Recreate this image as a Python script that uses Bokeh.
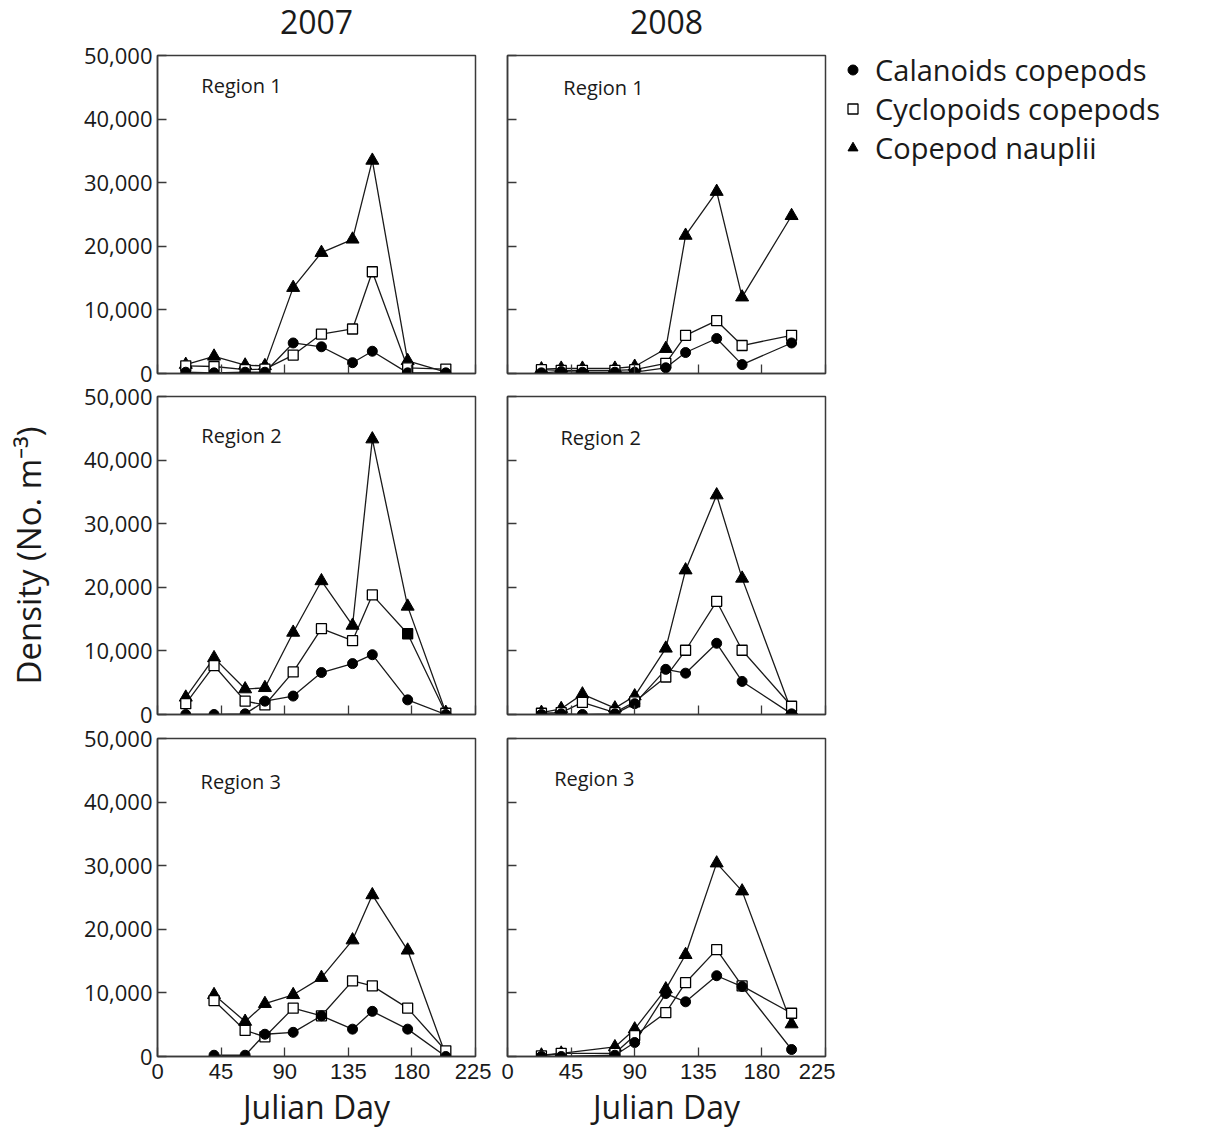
from bokeh.plotting import figure
from bokeh.layouts import row, column
from bokeh.models import (Range1d, FixedTicker, NumeralTickFormatter, Label,
                          Legend, LegendItem, ColumnDataSource)
from bokeh.core.properties import value
from bokeh.embed import file_html
from bokeh.resources import INLINE

# ---- sampling days (Julian day) ----
days_2007 = [20, 40, 62, 76, 96, 116, 138, 152, 177, 204]
days_2007_r3 = [40, 62, 76, 96, 116, 138, 152, 177, 204]
days_2008 = [24, 38, 53, 76, 90, 112, 126, 148, 166, 201]
days_2008_r3 = [24, 38, 76, 90, 112, 126, 148, 166, 201]

# ---- densities (No. m^-3) ----
# Region 1
r1_2007_calanoid = [200, 100, 200, 200, 4800, 4200, 1700, 3500, 100, 100]
r1_2007_cyclopoid = [1200, 1100, 600, 700, 2900, 6200, 7000, 16000, 900, 700]
r1_2007_nauplii = [1400, 2700, 1300, 1200, 13500, 19000, 21100, 33500, 2000, 200]
r1_2008_calanoid = [100, 300, 200, 200, 200, 900, 3300, 5500, 1400, 4800]
r1_2008_cyclopoid = [600, 500, 500, 500, 600, 1600, 6000, 8300, 4400, 6000]
r1_2008_nauplii = [700, 800, 800, 800, 1100, 3900, 21700, 28600, 12000, 24800]
# Region 2
r2_2007_calanoid = [0, 0, 100, 2100, 2900, 6600, 8000, 9400, 2300, 0]
r2_2007_cyclopoid = [1700, 7700, 2100, 1500, 6700, 13500, 11600, 18800, 12700, 200]
r2_2007_nauplii = [2700, 8900, 4000, 4200, 12900, 21000, 14000, 43300, 17000, 300]
r2_2008_calanoid = [0, 100, 0, 100, 1700, 7100, 6500, 11200, 5200, 100]
r2_2008_cyclopoid = [200, 300, 1900, 300, 2000, 5900, 10100, 17800, 10100, 1300]
r2_2008_nauplii = [300, 900, 3200, 1000, 2900, 10400, 22700, 34500, 21400, 500]
# Region 3
r3_2007_calanoid = [200, 200, 3500, 3800, 6400, 4300, 7100, 4300, 0]
r3_2007_cyclopoid = [8800, 4100, 3100, 7600, 6400, 11900, 11100, 7600, 900]
r3_2007_nauplii = [9700, 5500, 8300, 9700, 12400, 18300, 25400, 16700, 200]
r3_2008_calanoid = [0, 0, 200, 2200, 9900, 8600, 12700, 11000, 1100]
r3_2008_cyclopoid = [100, 500, 500, 3300, 6900, 11600, 16800, 11100, 6800]
r3_2008_nauplii = [200, 500, 1500, 4300, 10600, 16000, 30400, 26000, 5100]

years = ["2007", "2008"]
regions = ["Region 1", "Region 2", "Region 3"]
series_names = ["Calanoids copepods", "Cyclopoids copepods", "Copepod nauplii"]
x_ticks = [0, 45, 90, 135, 180, 225]
y_ticks = [0, 10000, 20000, 30000, 40000, 50000]

panels = {
    (0, 0): (days_2007, r1_2007_calanoid, r1_2007_cyclopoid, r1_2007_nauplii),
    (1, 0): (days_2008, r1_2008_calanoid, r1_2008_cyclopoid, r1_2008_nauplii),
    (0, 1): (days_2007, r2_2007_calanoid, r2_2007_cyclopoid, r2_2007_nauplii),
    (1, 1): (days_2008, r2_2008_calanoid, r2_2008_cyclopoid, r2_2008_nauplii),
    (0, 2): (days_2007_r3, r3_2007_calanoid, r3_2007_cyclopoid, r3_2007_nauplii),
    (1, 2): (days_2008_r3, r3_2008_calanoid, r3_2008_cyclopoid, r3_2008_nauplii),
}

# cyclopoid markers printed solid in the figure (panel -> sampling day)
solid_cyclopoid = {(0, 1): [177]}

# where each region caption sits (data coordinates)
caption_pos = {
    (0, 0): (31, 45300), (1, 0): (39.5, 45000),
    (0, 1): (31, 43800), (1, 1): (37.5, 43600),
    (0, 2): (30.5, 43300), (1, 2): (33, 43700),
}

INK = "#1a1a1a"
FRAME = "#3a3a3a"

# page geometry (pixels)
PAGE_W = 1221
FRAME_W = 318
LEFT_PAD = 157          # space left of the first column's frame
COL_GAP = 32            # space between the two frames
HEAD_H = 41             # strip holding the year headings
TOP_PAD = 14            # remaining space above the first row's frames


def make_panel(yi, ri):
    left = yi == 0
    top = ri == 0
    bottom = ri == 2
    with_legend = (yi == 1 and ri == 0)
    p = figure(
        frame_width=FRAME_W, frame_height=318,
        x_range=Range1d(0, 225), y_range=Range1d(0, 50000),
        output_backend="svg", toolbar_location=None,
        min_border_left=LEFT_PAD if left else COL_GAP // 2,
        min_border_right=COL_GAP // 2 if left else (396 if with_legend else 10),
        min_border_top=TOP_PAD if top else (11 if ri == 1 else 12),
        min_border_bottom=75 if bottom else 12,
        background_fill_color="white", border_fill_color="white",
    )
    p.grid.visible = False
    p.outline_line_color = FRAME
    p.outline_line_width = 1.5

    for ax in (p.xaxis[0], p.yaxis[0]):
        ax.major_tick_in = 9
        ax.major_tick_out = 0
        ax.minor_tick_line_color = None
        ax.axis_line_color = FRAME
        ax.axis_line_width = 1.5
        ax.major_tick_line_color = FRAME
        ax.major_tick_line_width = 1.3

    p.xaxis.ticker = FixedTicker(ticks=x_ticks)
    p.yaxis.ticker = FixedTicker(ticks=y_ticks)
    p.yaxis.formatter = NumeralTickFormatter(format="0,0")

    if left:
        p.yaxis.major_label_text_font = "Open Sans"
        p.yaxis.major_label_text_font_size = "22px"
        p.yaxis.major_label_text_color = INK
        p.yaxis.major_label_standoff = 5
    else:
        p.yaxis.major_label_text_color = None
        p.yaxis.major_label_standoff = 0

    if bottom:
        p.xaxis.major_label_text_font = "Liberation Sans"
        p.xaxis.major_label_text_font_size = "22px"
        p.xaxis.major_label_text_color = INK
        p.xaxis.major_label_standoff = 7
        p.xaxis.axis_label = "Julian Day"
        p.xaxis.axis_label_text_font = "Open Sans"
        p.xaxis.axis_label_text_font_size = "32px"
        p.xaxis.axis_label_text_font_style = "normal"
        p.xaxis.axis_label_text_color = INK
        p.xaxis.axis_label_standoff = 3
    else:
        p.xaxis.major_label_text_color = None
        p.xaxis.major_label_standoff = 0

    if left and ri == 1:
        p.yaxis.axis_label = "Density (No. m\u207b\u00b3)"
        p.yaxis.axis_label_text_font = "Open Sans"
        p.yaxis.axis_label_text_font_size = "33px"
        p.yaxis.axis_label_text_font_style = "normal"
        p.yaxis.axis_label_text_color = INK
        p.yaxis.axis_label_standoff = 30

    days, cal, cyc, nau = panels[(yi, ri)]
    solid = solid_cyclopoid.get((yi, ri), [])
    cyc_fill = ["black" if d in solid else "white" for d in days]

    for vals in (nau, cyc, cal):
        p.line(days, vals, line_color=INK, line_width=1.3)

    r_nau = p.scatter(days, nau, marker="triangle", size=13,
                      fill_color="black", line_color="black")
    src_cyc = ColumnDataSource(dict(x=days, y=cyc, fill=cyc_fill))
    r_cyc = p.scatter("x", "y", source=src_cyc, marker="square", size=10,
                      fill_color="fill", line_color="black", line_width=1.3)
    r_cal = p.scatter(days, cal, marker="circle", size=10,
                      fill_color="black", line_color="black")

    cx, cy = caption_pos[(yi, ri)]
    p.add_layout(Label(x=cx, y=cy, text=regions[ri], text_font="Open Sans",
                       text_font_size="20px", text_color=INK,
                       text_baseline="middle", text_align="left"))

    if with_legend:
        legend = Legend(items=[
            LegendItem(label=series_names[0], renderers=[r_cal]),
            LegendItem(label=series_names[1], renderers=[r_cyc]),
            LegendItem(label=series_names[2], renderers=[r_nau]),
        ])
        legend.location = (15, 206)
        legend.label_text_font = "Open Sans"
        legend.label_text_font_size = "29px"
        legend.label_text_color = INK
        legend.glyph_width = 25
        legend.glyph_height = 25
        legend.label_standoff = 10
        legend.spacing = 0
        legend.padding = 0
        legend.margin = 0
        legend.border_line_color = None
        legend.background_fill_alpha = 0
        p.add_layout(legend, "right")
    return p


# strip with the year headings, centred over each column of panels
head = figure(width=PAGE_W, height=HEAD_H, x_range=Range1d(0, PAGE_W),
              y_range=Range1d(0, HEAD_H), output_backend="svg",
              toolbar_location=None, min_border=0, outline_line_color=None,
              background_fill_color="white", border_fill_color="white")
head.axis.visible = False
head.grid.visible = False
col_centres = [LEFT_PAD + FRAME_W / 2,
               LEFT_PAD + FRAME_W + COL_GAP + FRAME_W / 2]
head.text(x=col_centres, y=[HEAD_H - 21] * 2, text=years,
          text_font=value("Open Sans"), text_font_size="32px",
          text_color=INK, text_align="center", text_baseline="middle")

rows = [head]
for ri in range(3):
    rows.append(row(make_panel(0, ri), make_panel(1, ri), spacing=0))
layout = column(*rows, spacing=0)

open("out.html", "w").write(file_html(layout, INLINE))
